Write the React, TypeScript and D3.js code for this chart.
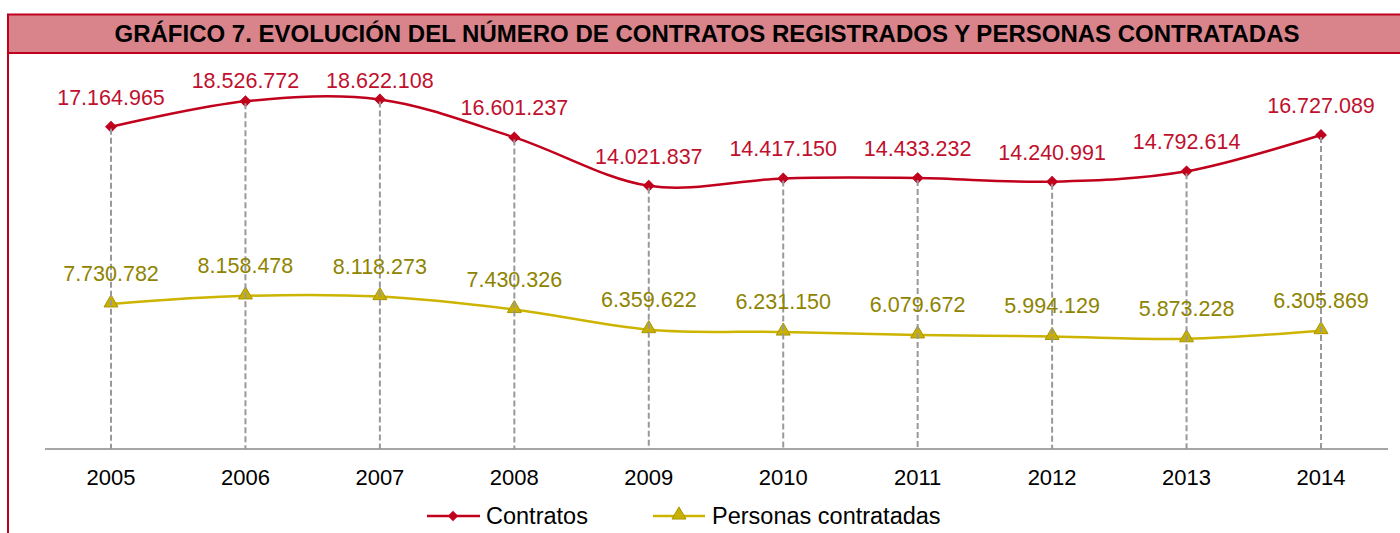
import React from "react";
import * as d3 from "d3";

const years = ["2005", "2006", "2007", "2008", "2009", "2010", "2011", "2012", "2013", "2014"];
const contratos = [17164965, 18526772, 18622108, 16601237, 14021837, 14417150, 14433232, 14240991, 14792614, 16727089];
const personas = [7730782, 8158478, 8118273, 7430326, 6359622, 6231150, 6079672, 5994129, 5873228, 6305869];
const title = "GRÁFICO 7. EVOLUCIÓN DEL NÚMERO DE CONTRATOS REGISTRADOS Y PERSONAS CONTRATADAS";
const seriesNames = ["Contratos", "Personas contratadas"];

const W = 1400;
const H = 533;
const RED = "#C0001C";
const RED_LABEL = "#C0102E";
const YEL = "#CCB400";
const YEL_LABEL = "#8E8400";
const FONT = "'Liberation Sans', Arial, sans-serif";

const fmt = (v: number) => d3.format(",")(v).replace(/,/g, ".");

export default function App() {
  const x = d3.scalePoint<string>().domain(years).range([111, 1321]);
  const y = d3.scaleLinear().domain([0, 20000000]).range([449, 449 - 20 * 18.77]);
  const line = d3
    .line<number>()
    .x((_, i) => x(years[i]) as number)
    .y((d) => y(d))
    .curve(d3.curveCardinal.tension(0));

  const diamond = d3.symbol().type(d3.symbolSquare).size(55)() as string;
  const triangle = d3.symbol().type(d3.symbolTriangle).size(85)() as string;

  return (
    <svg
      width={W}
      height={H}
      style={{ position: "absolute", left: 0, top: 0, display: "block" }}
      fontFamily={FONT}
    >
      <rect x={0} y={0} width={W} height={H} fill="#fff" />
      {/* frame */}
      <rect x={8} y={14.5} width={W + 10} height={38.5} fill="#D9838B" stroke={RED} strokeWidth={2} />
      <line x1={8} y1={14} x2={8} y2={H} stroke={RED} strokeWidth={2} />
      <text x={707} y={42} textAnchor="middle" fontSize={24} fontWeight="bold" fill="#000">
        {title}
      </text>

      {/* axis */}
      <line x1={45} x2={1388} y1={y(0)} y2={y(0)} stroke="#888" strokeWidth={1.5} />
      {years.map((yr) => (
        <text key={yr} x={x(yr)} y={485} textAnchor="middle" fontSize={22} fill="#000">
          {yr}
        </text>
      ))}

      {/* lines */}
      <path d={line(personas) as string} fill="none" stroke={YEL} strokeWidth={2.5} />
      <path d={line(contratos) as string} fill="none" stroke={RED} strokeWidth={2.5} />

      {/* markers */}
      {contratos.map((v, i) => (
        <path key={"c" + i} d={diamond} transform={`translate(${x(years[i])},${y(v)}) rotate(45)`} fill={RED} stroke={RED} strokeWidth={1} />
      ))}
      {personas.map((v, i) => (
        <path key={"p" + i} d={triangle} transform={`translate(${x(years[i])},${y(v) - 1})`} fill="#C8B000" stroke="#A89600" strokeWidth={1} />
      ))}

      {/* drop lines */}
      {contratos.map((v, i) => (
        <line
          key={"d" + i}
          x1={x(years[i])}
          x2={x(years[i])}
          y1={y(v) + 2}
          y2={y(0)}
          stroke="#999"
          strokeWidth={2}
          strokeDasharray="6,3"
        />
      ))}

      {/* labels */}
      {contratos.map((v, i) => (
        <text
          key={"lc" + i}
          x={x(years[i])}
          y={Math.max(y(v) - 30, 80) + 8}
          textAnchor="middle"
          fontSize={21.5}
          fill={RED_LABEL}
        >
          {fmt(v)}
        </text>
      ))}
      {personas.map((v, i) => (
        <text
          key={"lp" + i}
          x={x(years[i])}
          y={y(v) - 31 + 8}
          textAnchor="middle"
          fontSize={21.5}
          fill={YEL_LABEL}
        >
          {fmt(v)}
        </text>
      ))}

      {/* legend */}
      <g>
        <line x1={427} x2={480} y1={516} y2={516} stroke={RED} strokeWidth={2.5} />
        <path d={diamond} transform="translate(453,516) rotate(45)" fill={RED} />
        <text x={486} y={524} fontSize={23.5} fill="#000">{seriesNames[0]}</text>
        <line x1={653} x2={705} y1={516} y2={516} stroke={YEL} strokeWidth={2.5} />
        <path d={triangle} transform="translate(679,515)" fill="#C8B000" stroke="#A89600" />
        <text x={712} y={524} fontSize={23.5} fill="#000">{seriesNames[1]}</text>
      </g>
    </svg>
  );
}
